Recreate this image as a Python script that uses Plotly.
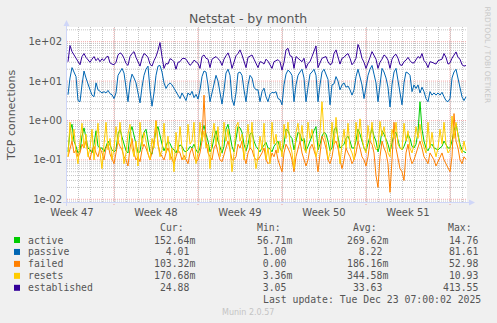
import math
from datetime import datetime, timedelta

import plotly.graph_objects as go

# ---------------------------------------------------------------------------
# Data: one sample every 4 hours, from 2025-11-20 04:00 to 2025-12-23 08:00
# ---------------------------------------------------------------------------
first_sample = datetime(2025, 11, 20, 4)
sample_step = timedelta(hours=4)

active = [
    0.16, 0.55, 0.8, 0.3, 0.22,            # Nov 20
    0.15, 0.17, 0.4, 0.65, 0.35, 0.2,      # Nov 21
    0.18, 0.15, 0.25, 0.55, 0.22, 0.2,     # Nov 22
    0.2, 0.16, 0.22, 0.3, 0.24, 0.18,      # Nov 23
    0.16, 0.18, 0.45, 0.6, 0.38, 0.25,     # Nov 24
    0.17, 0.15, 0.5, 0.7, 0.4, 0.22,       # Nov 25
    0.15, 0.16, 0.35, 0.5, 0.6, 0.3,       # Nov 26
    0.16, 0.14, 0.3, 0.55, 0.7, 0.4,       # Nov 27
    0.25, 0.17, 0.22, 0.3, 0.26, 0.2,      # Nov 28
    0.18, 0.15, 0.2, 0.24, 0.22, 0.17,     # Nov 29
    0.16, 0.18, 0.22, 0.2, 0.25, 0.18,     # Nov 30
    0.15, 0.2, 0.5, 0.75, 0.45, 0.3,       # Dec 1
    0.16, 0.2, 0.35, 0.55, 0.3, 0.2,       # Dec 2
    0.15, 0.22, 0.6, 0.8, 0.4, 0.22,       # Dec 3
    0.16, 0.3, 0.7, 0.65, 0.5, 0.25,       # Dec 4
    0.17, 0.25, 0.45, 0.5, 0.3, 0.22,      # Dec 5
    0.18, 0.16, 0.2, 0.24, 0.28, 0.2,      # Dec 6
    0.19, 0.16, 0.22, 0.26, 0.3, 0.2,      # Dec 7
    0.16, 0.25, 0.6, 0.55, 0.4, 0.35,      # Dec 8
    0.18, 0.3, 0.5, 0.45, 0.3, 0.35,       # Dec 9
    0.17, 0.22, 0.3, 0.45, 0.55, 0.7,      # Dec 10
    0.18, 0.25, 0.4, 0.5, 0.45, 0.3,       # Dec 11
    0.17, 0.2, 0.55, 0.7, 0.35, 0.2,       # Dec 12
    0.22, 0.25, 0.35, 0.4, 0.3, 0.2,       # Dec 13
    0.2, 0.3, 0.6, 0.45, 0.3, 0.2,         # Dec 14
    0.17, 0.25, 0.4, 0.65, 0.4, 0.3,       # Dec 15
    0.16, 0.25, 0.55, 0.45, 0.35, 0.25,    # Dec 16
    0.16, 0.3, 0.45, 0.5, 0.3, 0.2,        # Dec 17
    0.18, 0.22, 0.3, 0.45, 0.35, 0.22,     # Dec 18
    0.2, 0.25, 0.5, 3.0, 0.6, 0.3,         # Dec 19
    0.2, 0.17, 0.22, 0.25, 0.2, 0.19,      # Dec 20
    0.18, 0.2, 0.22, 0.3, 0.25, 0.2,       # Dec 21
    0.2, 0.3, 0.55, 0.8, 0.45, 0.25,       # Dec 22
    0.18, 0.16, 0.15264,                   # Dec 23
]

passive = [
    4.5, 12, 22, 17, 13,                   # Nov 20
    3.2, 3.0, 8, 18, 12, 8,                # Nov 21
    6, 4.4, 4, 9, 6, 5.5,                  # Nov 22
    5, 5.4, 5, 5.8, 4.8, 4.5,              # Nov 23
    3.6, 5, 14, 17, 21, 16,                # Nov 24
    6, 3.0, 9, 15, 12, 9,                  # Nov 25
    5, 2.8, 7, 14, 20, 24,                 # Nov 26
    6, 2.3, 5, 14, 24, 25,                 # Nov 27
    17, 9, 6.5, 8, 9, 8,                   # Nov 28
    6.6, 5.4, 4.4, 3.6, 5, 4,              # Nov 29
    3.2, 5, 4.4, 5.5, 3.8, 4.6,            # Nov 30
    3.5, 6, 13, 18, 17, 8,                 # Dec 1
    3.0, 5, 9, 14, 10, 5,                  # Dec 2
    2.6, 6, 16, 20, 14, 3.5,               # Dec 3
    2.4, 5, 16, 17, 14, 6,                 # Dec 4
    3.0, 8, 14, 12, 7, 6,                  # Dec 5
    6, 3.0, 5.4, 6.6, 4, 3,                # Dec 6
    4.6, 5.2, 5.0, 5.4, 3.6, 3.4,          # Dec 7
    2.5, 8, 15, 19, 17, 14,                # Dec 8
    3.0, 8, 14, 17, 20, 12,                # Dec 9
    3.0, 7, 15, 17, 20, 14,                # Dec 10
    3.0, 8, 17, 20, 15, 11,                # Dec 11
    2.5, 8, 8.5, 13, 10, 6,                # Dec 12
    8, 9, 7, 7.5, 6, 4.4,                  # Dec 13
    6, 13, 20, 12, 8, 3.6,                 # Dec 14
    6.6, 14, 20, 25, 15, 9,                # Dec 15
    3.0, 9, 21, 17, 12, 7,                 # Dec 16
    2.2, 8, 17, 21, 11, 6,                 # Dec 17
    2.5, 9, 17, 16, 14, 5.4,               # Dec 18
    8, 6.5, 8, 5, 7, 5.4,                  # Dec 19
    3.6, 3.0, 5.4, 4.4, 5, 4.4,            # Dec 20
    5, 4.4, 5.2, 4, 3.2, 3.0,              # Dec 21
    3.6, 12, 17, 20, 11, 6,                # Dec 22
    4, 3.2, 4.01,                          # Dec 23
]

failed = [
    0.12, 0.2, 0.3, 0.15, 0.18,            # Nov 20
    0.12, 0.15, 0.25, 0.2, 0.3, 0.14,      # Nov 21
    0.1, 0.18, 0.22, 0.15, 0.12, 0.2,      # Nov 22
    0.15, 0.1, 0.2, 0.25, 0.14, 0.11,      # Nov 23
    0.08, 0.15, 0.3, 0.22, 0.18, 0.12,     # Nov 24
    0.1, 0.07, 0.2, 0.35, 0.15, 0.1,       # Nov 25
    0.12, 0.09, 0.18, 0.25, 0.2, 0.14,     # Nov 26
    0.1, 0.15, 0.3, 1.0, 0.25, 0.15,       # Nov 27
    0.12, 0.1, 0.15, 0.2, 0.14, 0.1,       # Nov 28
    0.08, 0.12, 0.18, 0.15, 0.1, 0.13,     # Nov 29
    0.1, 0.08, 0.15, 0.2, 0.12, 0.09,      # Nov 30
    0.1, 0.15, 0.3, 4.4, 0.3, 0.15,        # Dec 1
    0.12, 0.1, 0.2, 0.25, 0.15, 0.1,       # Dec 2
    0.09, 0.14, 0.22, 0.3, 0.18, 0.1,      # Dec 3
    0.1, 0.12, 0.25, 0.2, 0.3, 0.12,       # Dec 4
    0.08, 0.15, 0.2, 0.18, 0.12, 0.1,      # Dec 5
    0.1, 0.12, 0.15, 0.2, 0.1, 0.08,       # Dec 6
    0.09, 0.15, 0.12, 0.18, 0.1, 0.07,     # Dec 7
    0.05, 0.15, 0.25, 0.2, 0.15, 0.1,      # Dec 8
    0.05, 0.12, 0.2, 0.3, 0.15, 0.1,       # Dec 9
    0.07, 0.1, 0.2, 0.25, 0.18, 0.12,      # Dec 10
    0.05, 0.15, 0.4, 0.3, 0.2, 0.1,        # Dec 11
    0.08, 0.12, 0.25, 0.3, 0.2, 0.1,       # Dec 12
    0.06, 0.1, 0.2, 0.15, 0.12, 0.08,      # Dec 13
    0.1, 0.15, 0.3, 0.2, 0.12, 0.1,        # Dec 14
    0.07, 0.12, 0.3, 0.25, 0.15, 0.04,     # Dec 15
    0.02, 0.12, 0.3, 0.2, 0.15, 0.08,      # Dec 16
    0.015, 0.1, 0.9, 0.2, 0.1, 0.06,       # Dec 17
    0.05, 0.03, 0.15, 0.25, 0.12, 0.08,    # Dec 18
    0.1, 0.15, 0.2, 0.3, 0.2, 0.12,        # Dec 19
    0.1, 0.08, 0.15, 0.12, 0.1, 0.07,      # Dec 20
    0.09, 0.12, 0.15, 0.1, 0.08, 0.06,     # Dec 21
    0.05, 0.12, 1.5, 0.3, 0.2, 0.1,        # Dec 22
    0.08, 0.12, 0.10332,                   # Dec 23
]

resets = [
    0.12, 0.9, 0.3, 0.6, 0.15,             # Nov 20
    0.08, 0.3, 0.85, 0.2, 0.45, 0.12,      # Nov 21
    0.2, 0.6, 0.1, 0.3, 0.85, 0.15,        # Nov 22
    0.06, 0.25, 0.9, 0.18, 0.35, 0.1,      # Nov 23
    0.2, 0.7, 0.25, 0.9, 0.3, 0.08,        # Nov 24
    0.15, 0.45, 0.8, 0.2, 0.12, 0.3,       # Nov 25
    0.07, 0.9, 0.22, 0.5, 0.3, 0.15,       # Nov 26
    0.1, 0.35, 0.2, 0.95, 0.25, 0.12,      # Nov 27
    0.18, 0.85, 0.15, 0.4, 0.1, 0.2,       # Nov 28
    0.05, 0.5, 0.15, 0.7, 0.2, 0.1,        # Nov 29
    0.12, 0.8, 0.25, 0.3, 0.9, 0.08,       # Nov 30
    0.15, 0.9, 0.3, 0.55, 0.2, 0.25,       # Dec 1
    0.06, 0.35, 0.85, 0.25, 0.7, 0.12,     # Dec 2
    0.2, 0.9, 0.3, 0.6, 0.2, 0.05,         # Dec 3
    0.15, 0.7, 0.9, 0.3, 0.45, 0.1,        # Dec 4
    0.25, 0.8, 0.2, 0.9, 0.15, 0.06,       # Dec 5
    0.12, 0.4, 0.18, 0.85, 0.1, 0.2,       # Dec 6
    0.08, 0.9, 0.25, 0.45, 0.15, 0.3,      # Dec 7
    0.12, 0.8, 0.35, 0.9, 0.25, 0.15,      # Dec 8
    0.06, 0.5, 0.85, 0.3, 0.75, 0.2,       # Dec 9
    0.15, 0.9, 0.35, 0.6, 0.25, 0.12,      # Dec 10
    0.2, 0.5, 3.0, 0.45, 0.3, 0.1,         # Dec 11
    0.15, 0.9, 0.25, 1.2, 0.3, 0.08,       # Dec 12
    0.25, 0.6, 0.2, 0.85, 0.2, 0.15,       # Dec 13
    0.1, 0.9, 0.3, 1.1, 0.35, 0.2,         # Dec 14
    0.15, 0.75, 0.3, 0.9, 0.25, 0.18,      # Dec 15
    0.2, 0.95, 0.4, 0.7, 0.3, 0.15,        # Dec 16
    0.12, 0.6, 0.35, 0.9, 0.25, 0.2,       # Dec 17
    0.18, 0.85, 0.3, 0.55, 0.2, 0.15,      # Dec 18
    0.25, 0.7, 0.35, 0.8, 0.3, 0.2,        # Dec 19
    0.15, 0.9, 0.2, 0.5, 0.2, 0.12,        # Dec 20
    0.2, 0.6, 0.25, 0.9, 0.25, 0.15,       # Dec 21
    0.18, 1.3, 0.35, 0.9, 0.4, 0.2,        # Dec 22
    0.15, 0.3, 0.17068,                    # Dec 23
]

established = [
    31, 80, 56, 46, 38,                    # Nov 20
    32, 26, 42, 50, 40, 34,                # Nov 21
    30, 36, 42, 33, 38, 31,                # Nov 22
    37, 33, 40, 43, 29, 27,                # Nov 23
    26, 30, 46, 52, 48, 38,                # Nov 24
    28, 25, 42, 50, 56, 40,                # Nov 25
    32, 24, 38, 50, 46, 40,                # Nov 26
    27, 24, 33, 42, 60, 95,                # Nov 27
    42, 21, 28, 27, 37, 35,                # Nov 28
    31, 20, 30, 31, 37, 38,                # Nov 29
    36, 29, 25, 28, 34, 31,                # Nov 30
    28, 21, 42, 46, 38, 36,                # Dec 1
    22, 36, 40, 42, 37, 33,                # Dec 2
    25, 36, 44, 52, 38, 21,                # Dec 3
    30, 44, 50, 62, 46, 30,                # Dec 4
    22, 40, 44, 46, 36, 28,                # Dec 5
    22, 31, 30, 27, 36, 32,                # Dec 6
    26, 21, 31, 33, 35, 31,                # Dec 7
    19, 30, 62, 68, 44, 42,                # Dec 8
    21, 42, 38, 36, 31, 38,                # Dec 9
    21, 28, 31, 42, 56, 78,                # Dec 10
    22, 30, 38, 40, 42, 31,                # Dec 11
    26, 28, 50, 62, 42, 27,                # Dec 12
    38, 40, 46, 50, 38, 26,                # Dec 13
    30, 38, 85, 62, 38, 30,                # Dec 14
    21, 31, 40, 56, 44, 36,                # Dec 15
    21, 30, 36, 46, 42, 34,                # Dec 16
    21, 36, 44, 48, 38, 26,                # Dec 17
    25, 31, 34, 40, 33, 29,                # Dec 18
    29, 34, 42, 38, 50, 33,                # Dec 19
    29, 22, 31, 30, 28, 27,                # Dec 20
    33, 34, 36, 50, 40, 27,                # Dec 21
    29, 38, 48, 55, 40, 36,                # Dec 22
    26, 24, 24.88,                         # Dec 23
]

# Legend table
series_names = ["active", "passive", "failed", "resets", "established"]
series_colors = ["#00CC00", "#0066B3", "#FF8000", "#FFCC00", "#330099"]
stat_cur = [0.15264, 4.01, 0.10332, 0.17068, 24.88]
stat_min = [0.05671, 1.00, 0.0, 0.00336, 3.05]
stat_avg = [0.26962, 8.22, 0.18616, 0.34458, 33.63]
stat_max = [14.76, 81.61, 52.98, 10.93, 413.55]

week_numbers = [47, 48, 49, 50, 51]
first_week_monday = datetime(2025, 11, 17)
y_tick_values = [0.01, 0.1, 1, 10, 100]
y_tick_text = ["1e-02", "1e-01", "1e+00", "1e+01", "1e+02"]

title_text = "Netstat - by month"
y_title = "TCP connections"
last_update = "Last update: Tue Dec 23 07:00:02 2025"
footer = "Munin 2.0.57"
watermark = "RRDTOOL / TOBI OETIKER"

# ---------------------------------------------------------------------------
# Layout geometry (pixels)
# ---------------------------------------------------------------------------
W, H = 497, 323
ML, MR, MT, MB = 67, 30, 27, 121
PW, PH = W - ML - MR, H - MT - MB

x_start = datetime(2025, 11, 20, 2)
x_end = x_start + timedelta(hours=800)
y_lo, y_hi = -2.069, 2.373

FONT = "#555555"
SANS = "DejaVu Sans"
MONO = "DejaVu Sans Mono"
AXIS_COL = "#CFD6F8"
GRID_COL = "rgba(150,150,150,0.55)"
MGRID_COL = "rgba(235,110,110,0.6)"
DOTS = "1px,1px"


def px(x):
    return (x - ML) / PW


def py(y):
    return (H - MB - y) / PH


fig = go.Figure()

for name, color, values in zip(series_names, series_colors,
                               [active, passive, failed, resets, established]):
    times = [first_sample + i * sample_step for i in range(len(values))]
    fig.add_trace(go.Scatter(
        x=times, y=values, mode="lines", name=name,
        line=dict(color=color, width=1), hoverinfo="skip", showlegend=False,
    ))

shapes = []

# horizontal grid: minor lines at 2..9 of each decade, major at decades
for d in range(-3, 3):
    for m in range(1, 10):
        v = m * 10 ** d
        if y_lo <= math.log10(v) <= y_hi:
            shapes.append(dict(
                type="line", xref="paper", yref="y", x0=0, x1=1, y0=v, y1=v,
                line=dict(color=MGRID_COL if m == 1 else GRID_COL, width=1, dash=DOTS),
                layer="below",
            ))

# week boundaries (Mondays) in red, with a short tick below the axis
monday = first_week_monday
while monday <= x_end:
    if monday >= x_start:
        shapes.append(dict(
            type="line", xref="x", yref="paper", x0=monday, x1=monday,
            y0=py(205), y1=1,
            line=dict(color=MGRID_COL, width=1, dash=DOTS),
            layer="below",
        ))
    monday += timedelta(days=7)

# axes with arrow heads
shapes.append(dict(type="line", xref="paper", yref="paper",
                   x0=px(63), x1=px(470), y0=py(202.5), y1=py(202.5),
                   line=dict(color=AXIS_COL, width=1), layer="above"))
shapes.append(dict(type="line", xref="paper", yref="paper",
                   x0=px(66.5), x1=px(66.5), y0=py(206), y1=py(24),
                   line=dict(color=AXIS_COL, width=1), layer="above"))
shapes.append(dict(type="path", xref="paper", yref="paper",
                   path=f"M {px(469)} {py(199.5)} L {px(475)} {py(202.5)} L {px(469)} {py(205.5)} Z",
                   fillcolor=AXIS_COL, line=dict(width=0), layer="above"))
shapes.append(dict(type="path", xref="paper", yref="paper",
                   path=f"M {px(63.5)} {py(26)} L {px(66.5)} {py(20)} L {px(69.5)} {py(26)} Z",
                   fillcolor=AXIS_COL, line=dict(width=0), layer="above"))

annotations = []


def text(x, y, s, size=10, family=SANS, color=FONT, xanchor="left", yanchor="middle", angle=0):
    annotations.append(dict(
        x=px(x), y=py(y), xref="paper", yref="paper", text=s, showarrow=False,
        xanchor=xanchor, yanchor=yanchor, textangle=angle,
        font=dict(family=family, size=size, color=color),
    ))


text(248, 19, title_text, size=12.5, xanchor="center")
text(11, 115, y_title, size=11, xanchor="center", angle=-90)
text(487, 4, watermark, size=7.5, color="#C8C8C8", xanchor="center", yanchor="top", angle=90)


def fmt(v):
    if 0 < v < 1:
        s = f"{v * 1000:6.2f}m"
    else:
        s = f"{v:6.2f} "
    return s.replace(" ", "\u00a0")


LEG = 9.8
header_y = 227.5
for label, hx in zip(["Cur:", "Min:", "Avg:", "Max:"], [158, 254.5, 351, 446]):
    text(hx, header_y, label, size=LEG, family=MONO)

col_x = [152, 249, 345, 441]
for i, name in enumerate(series_names):
    ry = 240 + 11.95 * i
    shapes.append(dict(type="rect", xref="paper", yref="paper",
                       x0=px(14), x1=px(20), y0=py(ry - 3), y1=py(ry + 3),
                       fillcolor=series_colors[i], line=dict(width=0)))
    text(26, ry, name, size=LEG, family=MONO)
    for cx, stats in zip(col_x, [stat_cur, stat_min, stat_avg, stat_max]):
        text(cx, ry, fmt(stats[i]), size=LEG, family=MONO)

text(261, 299.5, last_update, size=LEG, family=MONO)
text(248, 312, footer, size=8, color="#C4C4C4", xanchor="center")

week_mid = [first_week_monday + timedelta(days=7 * k, hours=84) for k in range(len(week_numbers))]

fig.update_layout(
    width=W, height=H,
    margin=dict(l=ML, r=MR, t=MT, b=MB, pad=0),
    paper_bgcolor="#F0F0F0", plot_bgcolor="#FFFFFF",
    shapes=shapes, annotations=annotations,
    xaxis=dict(
        type="date", range=[x_start, x_end],
        tickmode="array", tickvals=week_mid,
        ticktext=[f"Week {w}" for w in week_numbers],
        showgrid=False, zeroline=False, showline=False, ticks="",
        ticklabelstandoff=3,
        tickfont=dict(family=SANS, size=10, color=FONT),
        minor=dict(
            tickmode="linear", tick0="2025-11-17", dtick=86400000,
            showgrid=True, gridcolor=GRID_COL, gridwidth=1, griddash=DOTS, ticks="",
        ),
    ),
    yaxis=dict(
        type="log", range=[y_lo, y_hi],
        tickmode="array", tickvals=y_tick_values, ticktext=y_tick_text,
        showgrid=False, zeroline=False, showline=False, ticks="",
        ticklabelstandoff=4,
        tickfont=dict(family=SANS, size=10, color=FONT),
    ),
)

fig.write_html("out.html")
